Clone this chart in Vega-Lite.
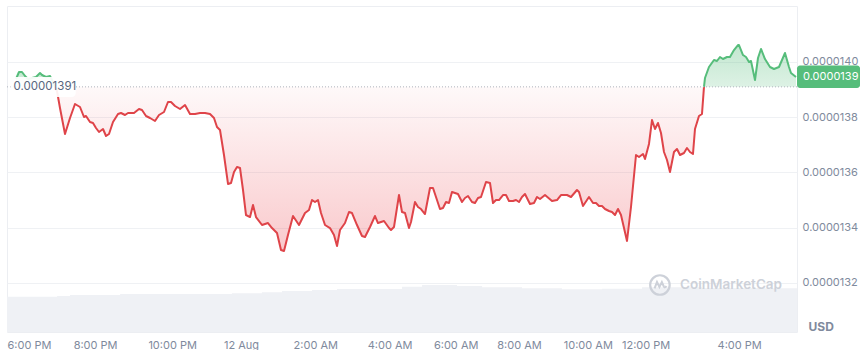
{
  "$schema": "https://vega.github.io/schema/vega-lite/v6.json",
  "width": 790,
  "height": 326,
  "padding": {"left": 5, "top": 6, "right": 0, "bottom": 0},
  "autosize": {"type": "pad"},
  "background": "#ffffff",
  "config": {"view": {"stroke": "#eceef2"}, "font": "Inter"},
  "datasets": {
    "price": [
      {"bar": 3.27, "price": 1.39384e-5, "leg": "up1"},
      {"bar": 4.36, "price": 1.39638e-5, "leg": "up1"},
      {"bar": 5.45, "price": 1.39638e-5, "leg": "up1"},
      {"bar": 6.54, "price": 1.39493e-5, "leg": "up1"},
      {"bar": 7.63, "price": 1.39384e-5, "leg": "up1"},
      {"bar": 9.08, "price": 1.3942e-5, "leg": "up1"},
      {"bar": 10.54, "price": 1.39457e-5, "leg": "up1"},
      {"bar": 11.99, "price": 1.39601e-5, "leg": "up1"},
      {"bar": 12.72, "price": 1.39529e-5, "leg": "up1"},
      {"bar": 14.17, "price": 1.39457e-5, "leg": "up1"},
      {"bar": 15.62, "price": 1.39493e-5, "leg": "up1"},
      {"bar": 16.71, "price": 1.39276e-5, "leg": "up1"},
      {"bar": 17.44, "price": 1.391e-5, "leg": "up1"},
      {"bar": 17.44, "price": 1.391e-5, "leg": "down"},
      {"bar": 18.16, "price": 1.3895e-5, "leg": "down"},
      {"bar": 19.25, "price": 1.38335e-5, "leg": "down"},
      {"bar": 21.07, "price": 1.37394e-5, "leg": "down"},
      {"bar": 22.89, "price": 1.37973e-5, "leg": "down"},
      {"bar": 24.7, "price": 1.38479e-5, "leg": "down"},
      {"bar": 26.52, "price": 1.38371e-5, "leg": "down"},
      {"bar": 27.97, "price": 1.38009e-5, "leg": "down"},
      {"bar": 28.7, "price": 1.38045e-5, "leg": "down"},
      {"bar": 30.15, "price": 1.37828e-5, "leg": "down"},
      {"bar": 31.24, "price": 1.37792e-5, "leg": "down"},
      {"bar": 32.33, "price": 1.37611e-5, "leg": "down"},
      {"bar": 33.42, "price": 1.37466e-5, "leg": "down"},
      {"bar": 34.88, "price": 1.37575e-5, "leg": "down"},
      {"bar": 35.97, "price": 1.37321e-5, "leg": "down"},
      {"bar": 37.06, "price": 1.37394e-5, "leg": "down"},
      {"bar": 38.51, "price": 1.37828e-5, "leg": "down"},
      {"bar": 40.33, "price": 1.38117e-5, "leg": "down"},
      {"bar": 41.42, "price": 1.38154e-5, "leg": "down"},
      {"bar": 42.87, "price": 1.38081e-5, "leg": "down"},
      {"bar": 43.96, "price": 1.38154e-5, "leg": "down"},
      {"bar": 46.14, "price": 1.38154e-5, "leg": "down"},
      {"bar": 47.95, "price": 1.38298e-5, "leg": "down"},
      {"bar": 49.04, "price": 1.38262e-5, "leg": "down"},
      {"bar": 50.5, "price": 1.38045e-5, "leg": "down"},
      {"bar": 51.95, "price": 1.37973e-5, "leg": "down"},
      {"bar": 53.77, "price": 1.37864e-5, "leg": "down"},
      {"bar": 55.22, "price": 1.38081e-5, "leg": "down"},
      {"bar": 57.04, "price": 1.3819e-5, "leg": "down"},
      {"bar": 58.49, "price": 1.38552e-5, "leg": "down"},
      {"bar": 59.58, "price": 1.38552e-5, "leg": "down"},
      {"bar": 61.03, "price": 1.38407e-5, "leg": "down"},
      {"bar": 62.85, "price": 1.38298e-5, "leg": "down"},
      {"bar": 64.67, "price": 1.38443e-5, "leg": "down"},
      {"bar": 66.48, "price": 1.38117e-5, "leg": "down"},
      {"bar": 68.3, "price": 1.38117e-5, "leg": "down"},
      {"bar": 70.11, "price": 1.38154e-5, "leg": "down"},
      {"bar": 71.93, "price": 1.38154e-5, "leg": "down"},
      {"bar": 73.75, "price": 1.38117e-5, "leg": "down"},
      {"bar": 75.2, "price": 1.37973e-5, "leg": "down"},
      {"bar": 76.29, "price": 1.37647e-5, "leg": "down"},
      {"bar": 77.38, "price": 1.37539e-5, "leg": "down"},
      {"bar": 78.83, "price": 1.36634e-5, "leg": "down"},
      {"bar": 80.29, "price": 1.35584e-5, "leg": "down"},
      {"bar": 81.38, "price": 1.3562e-5, "leg": "down"},
      {"bar": 82.47, "price": 1.36018e-5, "leg": "down"},
      {"bar": 83.56, "price": 1.36199e-5, "leg": "down"},
      {"bar": 84.65, "price": 1.36163e-5, "leg": "down"},
      {"bar": 85.74, "price": 1.35366e-5, "leg": "down"},
      {"bar": 86.83, "price": 1.34461e-5, "leg": "down"},
      {"bar": 88.28, "price": 1.34388e-5, "leg": "down"},
      {"bar": 89.37, "price": 1.34823e-5, "leg": "down"},
      {"bar": 90.46, "price": 1.34388e-5, "leg": "down"},
      {"bar": 92.64, "price": 1.34099e-5, "leg": "down"},
      {"bar": 94.82, "price": 1.34171e-5, "leg": "down"},
      {"bar": 96.27, "price": 1.3399e-5, "leg": "down"},
      {"bar": 98.09, "price": 1.33809e-5, "leg": "down"},
      {"bar": 99.54, "price": 1.33194e-5, "leg": "down"},
      {"bar": 100.63, "price": 1.33158e-5, "leg": "down"},
      {"bar": 102.08, "price": 1.33737e-5, "leg": "down"},
      {"bar": 103.9, "price": 1.34424e-5, "leg": "down"},
      {"bar": 106.08, "price": 1.34099e-5, "leg": "down"},
      {"bar": 108.26, "price": 1.34533e-5, "leg": "down"},
      {"bar": 109.71, "price": 1.34642e-5, "leg": "down"},
      {"bar": 110.8, "price": 1.35004e-5, "leg": "down"},
      {"bar": 111.89, "price": 1.34932e-5, "leg": "down"},
      {"bar": 112.98, "price": 1.35004e-5, "leg": "down"},
      {"bar": 114.07, "price": 1.34533e-5, "leg": "down"},
      {"bar": 115.53, "price": 1.34099e-5, "leg": "down"},
      {"bar": 117.34, "price": 1.3399e-5, "leg": "down"},
      {"bar": 118.79, "price": 1.33737e-5, "leg": "down"},
      {"bar": 119.89, "price": 1.33339e-5, "leg": "down"},
      {"bar": 120.98, "price": 1.33918e-5, "leg": "down"},
      {"bar": 122.79, "price": 1.34171e-5, "leg": "down"},
      {"bar": 124.25, "price": 1.3457e-5, "leg": "down"},
      {"bar": 125.34, "price": 1.34533e-5, "leg": "down"},
      {"bar": 127.15, "price": 1.34099e-5, "leg": "down"},
      {"bar": 128.97, "price": 1.337e-5, "leg": "down"},
      {"bar": 130.06, "price": 1.33664e-5, "leg": "down"},
      {"bar": 131.88, "price": 1.34026e-5, "leg": "down"},
      {"bar": 133.69, "price": 1.34424e-5, "leg": "down"},
      {"bar": 134.78, "price": 1.34171e-5, "leg": "down"},
      {"bar": 136.96, "price": 1.34243e-5, "leg": "down"},
      {"bar": 138.78, "price": 1.3399e-5, "leg": "down"},
      {"bar": 139.5, "price": 1.33918e-5, "leg": "down"},
      {"bar": 140.59, "price": 1.34026e-5, "leg": "down"},
      {"bar": 142.41, "price": 1.35185e-5, "leg": "down"},
      {"bar": 143.5, "price": 1.3457e-5, "leg": "down"},
      {"bar": 144.59, "price": 1.34533e-5, "leg": "down"},
      {"bar": 146.04, "price": 1.3399e-5, "leg": "down"},
      {"bar": 146.77, "price": 1.34207e-5, "leg": "down"},
      {"bar": 148.22, "price": 1.34932e-5, "leg": "down"},
      {"bar": 149.31, "price": 1.34751e-5, "leg": "down"},
      {"bar": 150.4, "price": 1.34678e-5, "leg": "down"},
      {"bar": 151.85, "price": 1.34497e-5, "leg": "down"},
      {"bar": 153.67, "price": 1.35439e-5, "leg": "down"},
      {"bar": 154.76, "price": 1.35439e-5, "leg": "down"},
      {"bar": 155.85, "price": 1.35113e-5, "leg": "down"},
      {"bar": 157.3, "price": 1.34678e-5, "leg": "down"},
      {"bar": 158.39, "price": 1.34714e-5, "leg": "down"},
      {"bar": 159.48, "price": 1.34932e-5, "leg": "down"},
      {"bar": 160.57, "price": 1.34895e-5, "leg": "down"},
      {"bar": 161.66, "price": 1.35294e-5, "leg": "down"},
      {"bar": 163.84, "price": 1.35222e-5, "leg": "down"},
      {"bar": 165.3, "price": 1.34932e-5, "leg": "down"},
      {"bar": 166.39, "price": 1.35077e-5, "leg": "down"},
      {"bar": 167.48, "price": 1.35149e-5, "leg": "down"},
      {"bar": 168.93, "price": 1.34932e-5, "leg": "down"},
      {"bar": 170.02, "price": 1.34895e-5, "leg": "down"},
      {"bar": 171.11, "price": 1.35077e-5, "leg": "down"},
      {"bar": 172.2, "price": 1.35113e-5, "leg": "down"},
      {"bar": 174.02, "price": 1.35656e-5, "leg": "down"},
      {"bar": 175.47, "price": 1.3562e-5, "leg": "down"},
      {"bar": 176.56, "price": 1.34895e-5, "leg": "down"},
      {"bar": 177.65, "price": 1.35004e-5, "leg": "down"},
      {"bar": 178.74, "price": 1.35004e-5, "leg": "down"},
      {"bar": 180.19, "price": 1.35185e-5, "leg": "down"},
      {"bar": 181.28, "price": 1.35185e-5, "leg": "down"},
      {"bar": 182.37, "price": 1.34968e-5, "leg": "down"},
      {"bar": 183.83, "price": 1.34968e-5, "leg": "down"},
      {"bar": 184.92, "price": 1.35004e-5, "leg": "down"},
      {"bar": 186.01, "price": 1.34932e-5, "leg": "down"},
      {"bar": 187.09, "price": 1.35113e-5, "leg": "down"},
      {"bar": 188.18, "price": 1.35222e-5, "leg": "down"},
      {"bar": 189.27, "price": 1.35004e-5, "leg": "down"},
      {"bar": 190.0, "price": 1.34859e-5, "leg": "down"},
      {"bar": 191.45, "price": 1.34895e-5, "leg": "down"},
      {"bar": 192.54, "price": 1.35113e-5, "leg": "down"},
      {"bar": 193.64, "price": 1.35041e-5, "leg": "down"},
      {"bar": 195.45, "price": 1.35185e-5, "leg": "down"},
      {"bar": 198.0, "price": 1.34968e-5, "leg": "down"},
      {"bar": 199.81, "price": 1.35004e-5, "leg": "down"},
      {"bar": 201.26, "price": 1.35185e-5, "leg": "down"},
      {"bar": 203.44, "price": 1.35185e-5, "leg": "down"},
      {"bar": 204.89, "price": 1.35113e-5, "leg": "down"},
      {"bar": 207.07, "price": 1.35366e-5, "leg": "down"},
      {"bar": 207.8, "price": 1.35294e-5, "leg": "down"},
      {"bar": 209.25, "price": 1.34787e-5, "leg": "down"},
      {"bar": 211.43, "price": 1.35113e-5, "leg": "down"},
      {"bar": 212.89, "price": 1.34895e-5, "leg": "down"},
      {"bar": 213.98, "price": 1.34895e-5, "leg": "down"},
      {"bar": 215.07, "price": 1.34787e-5, "leg": "down"},
      {"bar": 216.16, "price": 1.34787e-5, "leg": "down"},
      {"bar": 217.25, "price": 1.34678e-5, "leg": "down"},
      {"bar": 218.7, "price": 1.34606e-5, "leg": "down"},
      {"bar": 219.79, "price": 1.3457e-5, "leg": "down"},
      {"bar": 220.88, "price": 1.34461e-5, "leg": "down"},
      {"bar": 221.97, "price": 1.34678e-5, "leg": "down"},
      {"bar": 223.06, "price": 1.34461e-5, "leg": "down"},
      {"bar": 224.15, "price": 1.3399e-5, "leg": "down"},
      {"bar": 225.24, "price": 1.3352e-5, "leg": "down"},
      {"bar": 226.69, "price": 1.34751e-5, "leg": "down"},
      {"bar": 228.51, "price": 1.36634e-5, "leg": "down"},
      {"bar": 229.6, "price": 1.36561e-5, "leg": "down"},
      {"bar": 231.05, "price": 1.3667e-5, "leg": "down"},
      {"bar": 231.78, "price": 1.36489e-5, "leg": "down"},
      {"bar": 233.23, "price": 1.37032e-5, "leg": "down"},
      {"bar": 234.32, "price": 1.379e-5, "leg": "down"},
      {"bar": 235.41, "price": 1.37575e-5, "leg": "down"},
      {"bar": 236.5, "price": 1.37792e-5, "leg": "down"},
      {"bar": 237.59, "price": 1.3743e-5, "leg": "down"},
      {"bar": 238.68, "price": 1.36742e-5, "leg": "down"},
      {"bar": 239.77, "price": 1.36453e-5, "leg": "down"},
      {"bar": 240.86, "price": 1.36018e-5, "leg": "down"},
      {"bar": 242.31, "price": 1.36742e-5, "leg": "down"},
      {"bar": 243.4, "price": 1.36851e-5, "leg": "down"},
      {"bar": 244.49, "price": 1.36634e-5, "leg": "down"},
      {"bar": 245.94, "price": 1.36706e-5, "leg": "down"},
      {"bar": 247.03, "price": 1.36887e-5, "leg": "down"},
      {"bar": 248.12, "price": 1.36742e-5, "leg": "down"},
      {"bar": 249.21, "price": 1.3667e-5, "leg": "down"},
      {"bar": 249.94, "price": 1.37575e-5, "leg": "down"},
      {"bar": 251.39, "price": 1.38045e-5, "leg": "down"},
      {"bar": 252.48, "price": 1.38117e-5, "leg": "down"},
      {"bar": 253.21, "price": 1.391e-5, "leg": "down"},
      {"bar": 253.21, "price": 1.391e-5, "leg": "up2"},
      {"bar": 253.57, "price": 1.3942e-5, "leg": "up2"},
      {"bar": 255.02, "price": 1.39819e-5, "leg": "up2"},
      {"bar": 256.84, "price": 1.40072e-5, "leg": "up2"},
      {"bar": 257.93, "price": 1.40036e-5, "leg": "up2"},
      {"bar": 259.02, "price": 1.40181e-5, "leg": "up2"},
      {"bar": 260.11, "price": 1.40108e-5, "leg": "up2"},
      {"bar": 261.56, "price": 1.40181e-5, "leg": "up2"},
      {"bar": 262.65, "price": 1.40181e-5, "leg": "up2"},
      {"bar": 264.11, "price": 1.40434e-5, "leg": "up2"},
      {"bar": 265.56, "price": 1.40615e-5, "leg": "up2"},
      {"bar": 265.92, "price": 1.40615e-5, "leg": "up2"},
      {"bar": 267.38, "price": 1.40253e-5, "leg": "up2"},
      {"bar": 268.47, "price": 1.40181e-5, "leg": "up2"},
      {"bar": 269.56, "price": 1.4e-5, "leg": "up2"},
      {"bar": 270.29, "price": 1.40036e-5, "leg": "up2"},
      {"bar": 271.74, "price": 1.39348e-5, "leg": "up2"},
      {"bar": 272.83, "price": 1.40145e-5, "leg": "up2"},
      {"bar": 273.92, "price": 1.40471e-5, "leg": "up2"},
      {"bar": 275.37, "price": 1.40108e-5, "leg": "up2"},
      {"bar": 277.19, "price": 1.39819e-5, "leg": "up2"},
      {"bar": 278.64, "price": 1.39746e-5, "leg": "up2"},
      {"bar": 280.46, "price": 1.39819e-5, "leg": "up2"},
      {"bar": 281.55, "price": 1.40072e-5, "leg": "up2"},
      {"bar": 282.64, "price": 1.40326e-5, "leg": "up2"},
      {"bar": 284.09, "price": 1.39819e-5, "leg": "up2"},
      {"bar": 284.82, "price": 1.39601e-5, "leg": "up2"},
      {"bar": 286.64, "price": 1.39457e-5, "leg": "up2"}
    ],
    "volume": [
      {"bar": 0, "vol": 3.53},
      {"bar": 18.2, "vol": 3.6},
      {"bar": 22.9, "vol": 3.7},
      {"bar": 41.1, "vol": 3.8},
      {"bar": 81.7, "vol": 3.87},
      {"bar": 92.6, "vol": 3.97},
      {"bar": 99.9, "vol": 4.1},
      {"bar": 110.8, "vol": 4.2},
      {"bar": 119.9, "vol": 4.3},
      {"bar": 143.5, "vol": 4.53},
      {"bar": 150.8, "vol": 4.7},
      {"bar": 163.5, "vol": 4.6},
      {"bar": 172.6, "vol": 4.47},
      {"bar": 187.1, "vol": 4.37},
      {"bar": 201.6, "vol": 4.27},
      {"bar": 216.2, "vol": 4.33},
      {"bar": 230.7, "vol": 4.47},
      {"bar": 252.5, "vol": 4.4},
      {"bar": 274.3, "vol": 4.37},
      {"bar": 287, "vol": 4.37}
    ]
  },
  "encoding": {
    "x": {
      "field": "bar", "type": "quantitative",
      "scale": {"domain": [0, 287], "nice": false, "zero": false},
      "axis": {
        "title": null, "grid": false, "ticks": false, "domain": false,
        "labelPadding": 7, "labelColor": "#808a9d", "labelFontSize": 11, "labelFont": "Inter",
        "labelOverlap": false, "labelFlush": false,
        "values": [8, 32, 60, 85, 112, 139, 163, 186, 211, 232, 266],
        "labelExpr": "['6:00 PM','8:00 PM','10:00 PM','12 Aug','2:00 AM','4:00 AM','6:00 AM','8:00 AM','10:00 AM','12:00 PM','4:00 PM'][indexof([8,32,60,85,112,139,163,186,211,232,266], datum.value)]"
      }
    }
  },
  "layer": [
    {
      "data": {"name": "volume"},
      "mark": {"type": "area", "interpolate": "step-after", "color": "#eff1f5"},
      "encoding": {
        "y": {"field": "vol", "type": "quantitative", "scale": {"domain": [0, 32.6], "nice": false}, "axis": null}
      }
    },
    {
      "encoding": {
        "y": {
          "field": "price", "type": "quantitative",
          "scale": {"domain": [0.0000130226, 0.0000142027], "nice": false, "zero": false},
          "axis": {
            "orient": "right", "title": null, "values": [0.0000132, 0.0000134, 0.0000136, 0.0000138, 0.000014],
            "format": ".7f", "grid": true, "gridColor": "#eff1f4", "gridWidth": 1,
            "ticks": false, "domain": false, "labelPadding": 5, "labelColor": "#808a9d",
            "labelFontSize": 11, "labelFont": "Inter", "labelBaseline": "middle"
          }
        }
      },
      "layer": [
        {
          "data": {"name": "price"},
          "transform": [{"filter": "datum.leg === 'down'"}],
          "mark": {
            "type": "area",
            "color": {"gradient": "linear", "x1": 0, "y1": 0, "x2": 0, "y2": 1,
              "stops": [{"offset": 0, "color": "rgba(234,57,67,0.03)"}, {"offset": 1, "color": "rgba(234,57,67,0.27)"}]}
          },
          "encoding": {"y2": {"datum": 0.00001391}}
        },
        {
          "data": {"name": "price"},
          "transform": [{"filter": "datum.leg !== 'down'"}],
          "mark": {
            "type": "area",
            "color": {"gradient": "linear", "x1": 0, "y1": 0, "x2": 0, "y2": 1,
              "stops": [{"offset": 0, "color": "rgba(86,189,123,0.36)"}, {"offset": 1, "color": "rgba(86,189,123,0.2)"}]}
          },
          "encoding": {"y2": {"datum": 0.00001391}, "detail": {"field": "leg"}}
        },
        {
          "data": {"name": "price"},
          "transform": [{"filter": "datum.leg === 'down'"}],
          "mark": {"type": "line", "color": "#df4449", "strokeWidth": 2, "strokeJoin": "round"}
        },
        {
          "data": {"name": "price"},
          "transform": [{"filter": "datum.leg !== 'down'"}],
          "mark": {"type": "line", "color": "#56bd7b", "strokeWidth": 2, "strokeJoin": "round"},
          "encoding": {"detail": {"field": "leg"}}
        },
        {
          "data": {"values": [{"bar": 0, "price": 0.00001391}, {"bar": 287, "price": 0.00001391}]},
          "mark": {"type": "line", "color": "#aeb3bc", "strokeWidth": 1, "strokeDash": [1, 2]}
        },
        {
          "data": {"values": [{"bar": 1.3, "bar2": 25, "price": 0.0000139457, "price2": 0.0000138733}]},
          "mark": {"type": "rect", "fill": "#ffffff", "opacity": 0.92, "cornerRadius": 4},
          "encoding": {"x2": {"field": "bar2"}, "y2": {"field": "price2"}}
        },
        {
          "data": {"values": [{"bar": 2.4, "price": 0.00001391, "label": "0.00001391"}]},
          "mark": {"type": "text", "align": "left", "baseline": "middle", "fontSize": 11.5, "color": "#58667e", "font": "Inter"},
          "encoding": {"text": {"field": "label"}}
        },
        {
          "data": {"values": [{"bar": 287, "bar2": 309.9, "price": 0.0000139873, "price2": 0.0000139058}]},
          "mark": {"type": "rect", "fill": "#56bd7b", "cornerRadius": 3},
          "encoding": {"x2": {"field": "bar2"}, "y2": {"field": "price2"}}
        },
        {
          "data": {"values": [{"bar": 289.2, "price": 0.0000139465, "label": "0.0000139"}]},
          "mark": {"type": "text", "align": "left", "baseline": "middle", "fontSize": 11, "color": "#ffffff", "font": "Inter"},
          "encoding": {"text": {"field": "label"}}
        },
        {
          "data": {"values": [{"bar": 291.2, "price": 0.0000130417, "label": "USD"}]},
          "mark": {"type": "text", "align": "left", "baseline": "middle", "fontSize": 12, "fontWeight": "bold", "color": "#808a9d", "font": "Inter"},
          "encoding": {"text": {"field": "label"}}
        },
        {
          "data": {"values": [{"bar": 237.2, "price": 0.0000131927}]},
          "mark": {"type": "point", "shape": "circle", "filled": false, "size": 380, "stroke": "#cdd1d9", "strokeWidth": 2.2, "opacity": 1}
        },
        {
          "data": {"values": [{"bar": 237.2, "price": 0.0000131927}]},
          "mark": {"type": "point", "shape": "M-0.55,0.35L-0.3,-0.3L-0.05,0.2L0.2,-0.3L0.4,0.15Q0.5,0.35 0.68,0.12", "filled": false, "size": 380, "stroke": "#cdd1d9", "strokeWidth": 2, "opacity": 1}
        },
        {
          "data": {"values": [{"bar": 244.5, "price": 0.0000131927, "label": "CoinMarketCap"}]},
          "mark": {"type": "text", "align": "left", "baseline": "middle", "fontSize": 13.5, "fontWeight": 600, "color": "#cdd1d9", "font": "Inter"},
          "encoding": {"text": {"field": "label"}}
        }
      ]
    }
  ],
  "resolve": {"scale": {"y": "independent"}}
}
